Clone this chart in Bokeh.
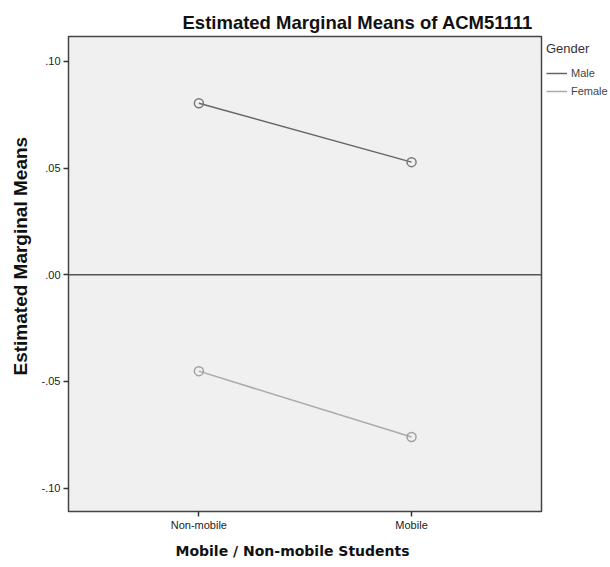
from bokeh.plotting import figure
from bokeh.models import Range1d, FixedTicker, Span, Legend, LegendItem, Title
from bokeh.embed import file_html
from bokeh.resources import INLINE

categories = ["Non-mobile", "Mobile"]
series_names = ["Male", "Female"]
male = [0.0804, 0.0528]
female = [-0.0452, -0.0761]
y_ticks = [-0.10, -0.05, 0.0, 0.05, 0.10]
y_tick_labels = ["-.10", "-.05", ".00", ".05", ".10"]

x_pos = list(range(len(categories)))

p = figure(frame_width=473, frame_height=475, output_backend="svg", toolbar_location=None,
           x_range=Range1d(-0.613, 1.611), y_range=Range1d(-0.111, 0.1117),
           min_border_left=68, min_border_right=0, min_border_top=36,
           min_border_bottom=54)

p.background_fill_color = "#f0f0f0"
p.border_fill_color = "white"
p.outline_line_color = "#444444"
p.outline_line_width = 1.5
p.xgrid.visible = False
p.ygrid.visible = False

p.title.text = "Estimated Marginal Means of ACM51111"
p.title.text_font = "Liberation Sans"
p.title.text_font_size = "18.5px"
p.title.text_font_style = "bold"
p.title.text_color = "#111111"
p.title.align = "left"
p.title.offset = 114
p.title.standoff = 8

zero = Span(location=0, dimension="width", line_color="#555555", line_width=1.5)
p.add_layout(zero)

colors = ["#666666", "#aaaaaa"]
marker_colors = ["#7a7a7a", "#a0a0a0"]
items = []
for name, vals, c, mc in zip(series_names, [male, female], colors, marker_colors):
    r = p.line(x_pos, vals, line_color=c, line_width=1.5)
    p.scatter(x_pos, vals, marker="circle", size=9, fill_color=None,
              line_color=mc, line_width=1.5)
    items.append(LegendItem(label=name, renderers=[r]))

legend = Legend(items=items, title="Gender", location="top_left",
                background_fill_alpha=0, border_line_alpha=0,
                padding=5, margin=0, spacing=4, glyph_width=21, glyph_height=14,
                label_height=14, label_standoff=4, title_standoff=10,
                label_text_font="Liberation Sans", label_text_font_size="11px",
                title_text_font="Liberation Sans", title_text_font_size="13px",
                title_text_font_style="normal", title_text_color="#333333")
p.add_layout(legend, "right")

# axes
p.yaxis.ticker = FixedTicker(ticks=y_ticks)
p.yaxis.major_label_overrides = {t: l for t, l in zip(y_ticks, y_tick_labels)}
p.xaxis.ticker = FixedTicker(ticks=x_pos)
p.xaxis.major_label_overrides = {i: c for i, c in zip(x_pos, categories)}

for ax in (p.xaxis[0], p.yaxis[0]):
    ax.axis_line_color = None
    ax.minor_tick_line_color = None
    ax.major_tick_in = 0
    ax.major_tick_out = 5
    ax.major_tick_line_color = "#333333"
    ax.major_tick_line_width = 1.5
    ax.major_label_text_font = "Liberation Sans"
    ax.major_label_text_font_size = "11px"
    ax.major_label_text_color = "#222222"

p.yaxis.major_label_standoff = 3
p.xaxis.major_label_standoff = 2

# axis titles placed as side titles so that they can be offset like the original
ylab = Title(text="Estimated Marginal Means", align="left", offset=136,
             text_font="Liberation Sans", text_font_size="19px",
             text_font_style="bold", text_color="#111111", standoff=15)
p.add_layout(ylab, "left")

xlab = Title(text="Mobile / Non-mobile Students", align="left", offset=107,
             text_font="DejaVu Sans", text_font_size="14px",
             text_font_style="bold", text_color="#111111", standoff=14)
p.add_layout(xlab, "below")

open("out.html", "w").write(file_html(p, INLINE))
